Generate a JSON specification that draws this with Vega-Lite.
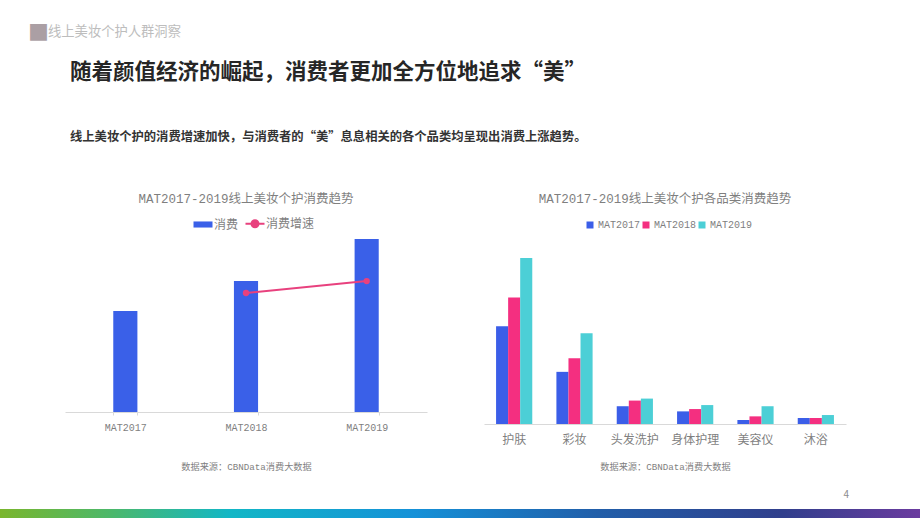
{
  "$schema": "https://vega.github.io/schema/vega-lite/v6.json",
  "background": "white",
  "padding": {"top": 22, "left": 0, "right": 0, "bottom": 0},
  "title": {
    "text": "■",
    "subtitle": "\u2800\u2800线上美妆个护人群洞察",
    "anchor": "start",
    "frame": "group",
    "dx": 28,
    "fontSize": 21,
    "fontWeight": "normal",
    "font": "Noto Sans CJK SC",
    "color": "#ab9fa4",
    "subtitleFont": "Noto Sans CJK SC",
    "subtitleFontSize": 13.3,
    "subtitleColor": "#bdbdbd",
    "subtitlePadding": -19,
    "offset": 18
  },
  "spacing": 18,
  "center": true,
  "vconcat": [
    {
      "title": {
        "text": "随着颜值经济的崛起，消费者更加全方位地追求“美”",
        "subtitle": "线上美妆个护的消费增速加快，与消费者的“美”息息相关的各个品类均呈现出消费上涨趋势。",
        "anchor": "start",
        "frame": "group",
        "dx": 5,
        "font": "Noto Sans CJK SC",
        "fontSize": 21.5,
        "fontWeight": "bold",
        "color": "#262626",
        "subtitleFont": "Noto Sans CJK SC",
        "subtitleFontSize": 12.3,
        "subtitleFontWeight": "bold",
        "subtitleColor": "#333333",
        "subtitlePadding": 48,
        "offset": 49
      },
      "spacing": 57,
      "resolve": {"scale": {"color": "independent"}, "legend": {"color": "independent"}},
      "hconcat": [
        {
          "width": 362,
          "height": 173,
          "title": {
            "text": "MAT2017-2019线上美妆个护消费趋势",
            "frame": "group",
            "anchor": "middle",
            "font": "Liberation Mono, Noto Sans CJK SC",
            "fontSize": 12.5,
            "fontWeight": "normal",
            "color": "#7f7f7f",
            "offset": 12.25
          },
          "data": {
            "values": [
              {"period": "MAT2017", "series": "消费", "value": 58.4},
              {"period": "MAT2018", "series": "消费", "value": 75.7},
              {"period": "MAT2019", "series": "消费", "value": 100},
              {"period": "MAT2018", "series": "消费增速", "value": 68.8},
              {"period": "MAT2019", "series": "消费增速", "value": 75.7}
            ]
          },
          "encoding": {
            "x": {
              "field": "period",
              "type": "nominal",
              "sort": null,
              "scale": {"paddingInner": 0.8, "paddingOuter": 0.4},
              "axis": {
                "labelAngle": 0,
                "labelFont": "Liberation Mono",
                "labelFontSize": 10,
                "labelColor": "#7f7f7f",
                "labelPadding": 7,
                "domainColor": "#d9d9d9",
                "ticks": true,
                "tickBand": "extent",
                "tickColor": "#d9d9d9",
                "tickSize": 3,
                "title": "数据来源：CBNData消费大数据",
                "titleFont": "Liberation Mono, Noto Sans CJK SC",
                "titleFontSize": 9.2,
                "titleFontWeight": "normal",
                "titleColor": "#7f7f7f",
                "titlePadding": 30
              }
            },
            "y": {
              "field": "value",
              "type": "quantitative",
              "scale": {"domain": [0, 100]},
              "axis": null
            },
            "color": {
              "field": "series",
              "type": "nominal",
              "scale": {"domain": ["消费", "消费增速"], "range": ["#3a60e8", "#e8417e"]},
              "legend": {
                "orient": "none",
                "legendX": 132,
                "legendY": -21.5,
                "direction": "horizontal",
                "title": null,
                "padding": 0,
                "symbolSize": 361,
                "labelFont": "Noto Sans CJK SC",
                "labelFontSize": 12,
                "labelColor": "#7f7f7f",
                "labelOffset": 5,
                "columnPadding": 2,
                "encode": {
                  "symbols": {
                    "update": {
                      "shape": {"signal": "datum.value === '消费' ? 'M-1,-0.32H1V0.32H-1Z' : 'M-1,0H1M0.37,0A0.37,0.37 0 1 1 -0.37,0A0.37,0.37 0 1 1 0.37,0Z'"},
                      "fill": {"signal": "datum.value === '消费' ? '#3a60e8' : '#e8417e'"},
                      "stroke": {"signal": "datum.value === '消费' ? '#3a60e8' : '#e8417e'"},
                      "strokeWidth": {"signal": "datum.value === '消费' ? 0 : 2"},
                      "opacity": {"value": 1},
                      "fillOpacity": {"value": 1}
                    }
                  }
                }
              }
            }
          },
          "layer": [
            {"transform": [{"filter": "datum.series === '消费'"}], "mark": {"type": "bar"}},
            {"transform": [{"filter": "datum.series === '消费增速'"}], "mark": {"type": "line", "strokeWidth": 2, "point": {"filled": true, "size": 40}}}
          ]
        },
        {
          "width": 362,
          "height": 185,
          "title": {
            "text": "MAT2017-2019线上美妆个护各品类消费趋势",
            "frame": "group",
            "anchor": "middle",
            "font": "Liberation Mono, Noto Sans CJK SC",
            "fontSize": 12.5,
            "fontWeight": "normal",
            "color": "#7f7f7f",
            "offset": 14.75
          },
          "data": {
            "values": [
              {"category": "护肤", "year": "MAT2017", "value": 58.9},
              {"category": "护肤", "year": "MAT2018", "value": 76.1},
              {"category": "护肤", "year": "MAT2019", "value": 100},
              {"category": "彩妆", "year": "MAT2017", "value": 31.4},
              {"category": "彩妆", "year": "MAT2018", "value": 39.6},
              {"category": "彩妆", "year": "MAT2019", "value": 54.7},
              {"category": "头发洗护", "year": "MAT2017", "value": 10.7},
              {"category": "头发洗护", "year": "MAT2018", "value": 14.1},
              {"category": "头发洗护", "year": "MAT2019", "value": 15.3},
              {"category": "身体护理", "year": "MAT2017", "value": 7.6},
              {"category": "身体护理", "year": "MAT2018", "value": 9.0},
              {"category": "身体护理", "year": "MAT2019", "value": 11.4},
              {"category": "美容仪", "year": "MAT2017", "value": 2.4},
              {"category": "美容仪", "year": "MAT2018", "value": 4.6},
              {"category": "美容仪", "year": "MAT2019", "value": 10.7},
              {"category": "沐浴", "year": "MAT2017", "value": 3.6},
              {"category": "沐浴", "year": "MAT2018", "value": 3.6},
              {"category": "沐浴", "year": "MAT2019", "value": 5.4}
            ]
          },
          "mark": {"type": "bar"},
          "encoding": {
            "x": {
              "field": "category",
              "type": "nominal",
              "sort": null,
              "scale": {"paddingInner": 0.4, "paddingOuter": 0.2},
              "axis": {
                "labelAngle": 0,
                "labelFont": "Noto Sans CJK SC",
                "labelFontSize": 12,
                "labelColor": "#7f7f7f",
                "labelPadding": 10,
                "domainColor": "#d9d9d9",
                "ticks": false,
                "title": "数据来源：CBNData消费大数据",
                "titleFont": "Liberation Mono, Noto Sans CJK SC",
                "titleFontSize": 9.2,
                "titleFontWeight": "normal",
                "titleColor": "#7f7f7f",
                "titlePadding": 17
              }
            },
            "xOffset": {"field": "year", "type": "nominal", "sort": null, "scale": {"paddingInner": 0, "paddingOuter": 0}},
            "y": {
              "field": "value",
              "type": "quantitative",
              "scale": {"domain": [0, 111.4]},
              "axis": {"orient": "right", "labels": false, "ticks": false, "domain": false, "grid": false, "title": null, "minExtent": 9}
            },
            "color": {
              "field": "year",
              "type": "nominal",
              "sort": null,
              "scale": {"domain": ["MAT2017", "MAT2018", "MAT2019"], "range": ["#3b5ee8", "#f42f80", "#4ccfd6"]},
              "legend": {
                "orient": "none",
                "legendX": 101,
                "legendY": -19,
                "direction": "horizontal",
                "title": null,
                "padding": 0,
                "symbolType": "square",
                "symbolSize": 49,
                "symbolStrokeWidth": 0,
                "labelFont": "Liberation Mono",
                "labelFontSize": 10,
                "labelColor": "#7f7f7f",
                "labelOffset": 3,
                "columnPadding": -4
              }
            }
          }
        }
      ]
    },
    {
      "width": 920,
      "height": 9,
      "title": {
        "text": "4",
        "anchor": "end",
        "frame": "group",
        "dx": -71,
        "font": "Noto Sans CJK SC",
        "fontSize": 10,
        "fontWeight": "normal",
        "color": "#8c8c8c",
        "offset": 9
      },
      "data": {"values": [{"start": 0, "end": 1}]},
      "mark": {
        "type": "rect",
        "color": {
          "gradient": "linear",
          "stops": [
            {"offset": 0, "color": "#7ab62d"},
            {"offset": 0.12, "color": "#4cb86a"},
            {"offset": 0.25, "color": "#12b7c6"},
            {"offset": 0.45, "color": "#1591d8"},
            {"offset": 0.65, "color": "#215ea9"},
            {"offset": 0.85, "color": "#303f8c"},
            {"offset": 1, "color": "#6b3b9f"}
          ]
        }
      },
      "encoding": {
        "x": {"field": "start", "type": "quantitative", "scale": {"domain": [0, 1], "nice": false}, "axis": null},
        "x2": {"field": "end"}
      }
    }
  ],
  "config": {
    "view": {"stroke": null},
    "font": "Noto Sans CJK SC",
    "axis": {"grid": false}
  }
}
